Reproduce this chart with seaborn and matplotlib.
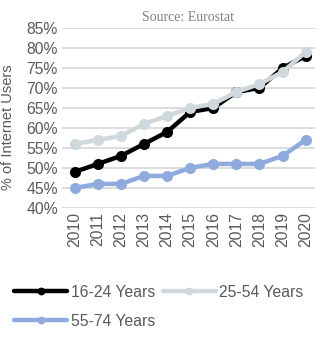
import matplotlib
matplotlib.use("Agg")
import matplotlib.pyplot as plt
import seaborn as sns
import pandas as pd

years = [2010, 2011, 2012, 2013, 2014, 2015, 2016, 2017, 2018, 2019, 2020]
young = [49, 51, 53, 56, 59, 64, 65, 69, 70, 75, 78]
adult = [56, 57, 58, 61, 63, 65, 66, 69, 71, 74, 79]
senior = [45, 46, 46, 48, 48, 50, 51, 51, 51, 53, 57]
labels = ["16-24 Years", "25-54 Years", "55-74 Years"]
colors = ["#000000", "#CFD8DC", "#8FAADC"]
yticks = [40, 45, 50, 55, 60, 65, 70, 75, 80, 85]

sns.set_style("white")
plt.rcParams["font.family"] = ["Liberation Sans", "DejaVu Sans"]
gray = "#595959"
fs = 11.3

fig = plt.figure(figsize=(3.2, 3.38), dpi=100)
ax = fig.add_axes([0.194, 0.385, 0.79, 0.532])

for vals, lab, col in zip([young, adult, senior], labels, colors):
    df = pd.DataFrame({"year": years, "pct": vals})
    sns.lineplot(data=df, x="year", y="pct", ax=ax, color=col, label=lab,
                 linewidth=3.2, marker="o", markersize=8, markeredgewidth=0)

ax.set_ylim(40, 85)
ax.set_xlim(2009.45, 2020.4)
ax.set_yticks(yticks)
ax.set_yticklabels([f"{v}%" for v in yticks], fontsize=fs, color=gray)
ax.set_xticks(years)
ax.set_xticklabels([str(y) for y in years], rotation=90, fontsize=fs, color=gray)
ax.tick_params(length=0, pad=3)
ax.grid(axis="y", color="#D9D9D9", linewidth=1.3)
ax.set_axisbelow(True)
for s in ax.spines.values():
    s.set_visible(False)
ax.set_xlabel("")
ax.set_ylabel("% of Internet Users", fontsize=10.5, color=gray, labelpad=2)
ax.yaxis.set_label_coords(-0.185, 0.45)
ax.set_title("Source: Eurostat", fontsize=10, color="#808080",
             family=["Liberation Serif", "DejaVu Serif"], pad=5)

handles, labs = ax.get_legend_handles_labels()
ax.get_legend().remove()
order = [0, 2, 1]
fig.legend([handles[i] for i in order], [labs[i] for i in order],
           loc="upper left", bbox_to_anchor=(0.0, 0.2), ncol=2,
           frameon=False, fontsize=fs, handlelength=3.4, handletextpad=0.2,
           columnspacing=0.5, labelspacing=0.9, labelcolor=gray, markerscale=0.7)

fig.savefig("out.png", dpi=100)
